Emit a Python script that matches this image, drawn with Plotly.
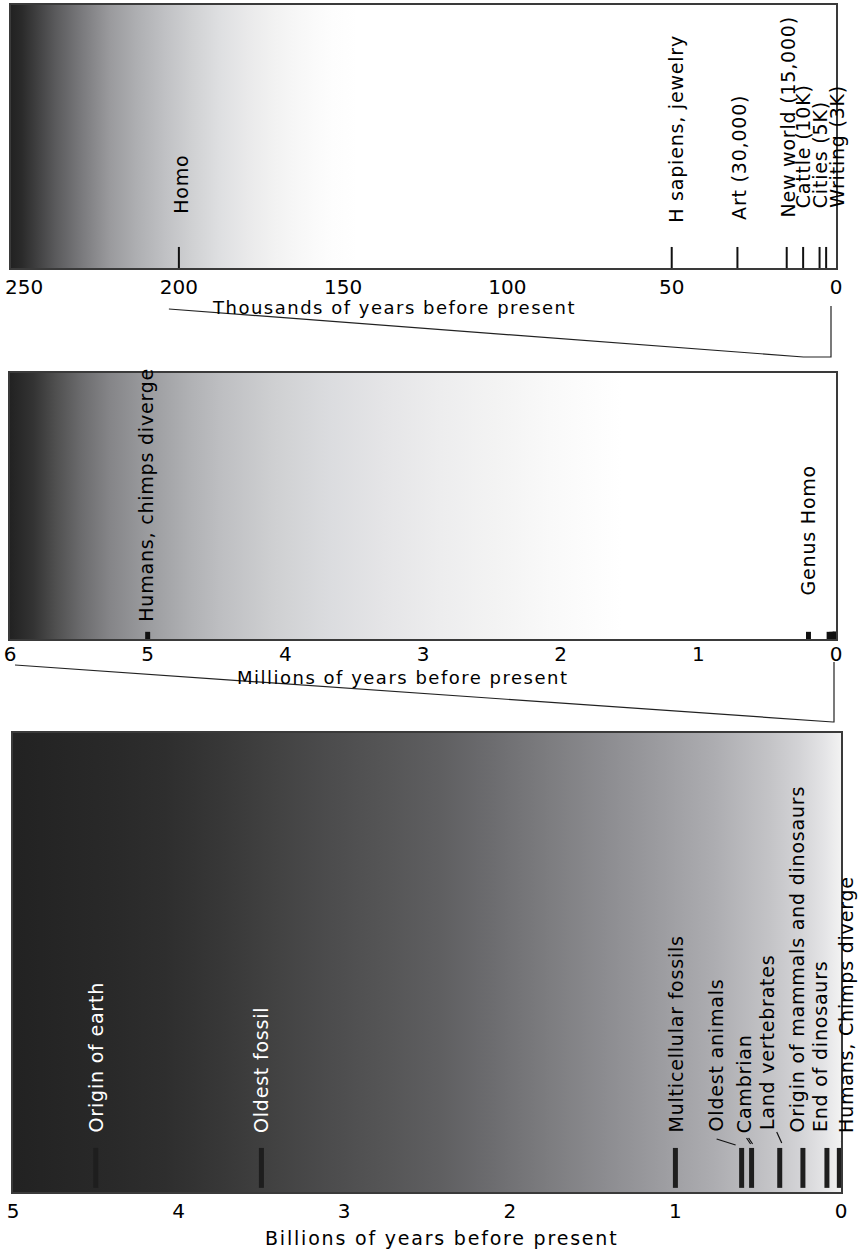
import plotly.graph_objects as go

W, H = 861, 1250
OFF = 0  # page body margin removed via post_script

# ---------------- data ----------------
# Panel 1: thousands of years before present
k_events = ["Homo", "H sapiens, jewelry", "Art (30,000)", "New world (15,000)",
            "Cattle (10K)", "Cities (5K)", "Writing (3K)"]
k_years = [200, 50, 30, 15, 10, 5, 3]
k_ticks = [250, 200, 150, 100, 50, 0]

# Panel 2: millions of years before present
m_events = ["Humans, chimps diverge", "Genus Homo"]
m_years = [5, 0.2]
m_recent = [0.05, 0.03, 0.015, 0.01, 0.005, 0.003]   # unlabeled marks near 0
m_ticks = [6, 5, 4, 3, 2, 1, 0]

# Panel 3: billions of years before present
b_events = ["Origin of earth", "Oldest fossil", "Multicellular fossils", "Oldest animals",
            "Cambrian", "Land vertebrates", "Origin of mammals and dinosaurs",
            "End of dinosaurs", "Humans, Chimps diverge"]
b_years = [4.5, 3.5, 1.0, 0.6, 0.54, 0.37, 0.23, 0.085, 0.01]
b_ticks = [5, 4, 3, 2, 1, 0]

# ---------------- layout geometry (pixels in the screenshot) ----------------
panels = {
    1: dict(x0=11, x1=836, y0=5, y1=268, rng=[251.1, 0], standoff=0),
    2: dict(x0=10, x1=836, y0=373, y1=639, rng=[6, 0], standoff=-4),
    3: dict(x0=13, x1=841, y0=733, y1=1192, rng=[5, 0], standoff=0),
}

def px(p):
    return (p - OFF) / W

def py(p):
    return 1 - (p - OFF) / H

def val2px(panel, v):
    g = panels[panel]
    r0, r1 = g["rng"]
    return g["x0"] + (v - r0) / (r1 - r0) * (g["x1"] - g["x0"])

FONT = "DejaVu Sans"

def spaced(t, s):
    return f'<span style="letter-spacing:{s}px">{t}</span>'

def tick_text(vals, pad_first=0):
    out = []
    for i, t in enumerate(vals):
        s = str(t)
        if i == 0 and pad_first:
            s = "\u00a0" * pad_first + s
        out.append(s)
    return out

fig = go.Figure()

# gradients (screen fraction, gray colour)
grad = {
    1: [[0, "#222222"], [0.013, "#2a2a2a"], [0.054, "#5a5a5c"], [0.086, "#7a7a7d"],
        [0.12, "#9a9a9d"], [0.153, "#aeafb2"], [0.187, "#c0c1c4"], [0.22, "#d0d1d3"],
        [0.253, "#dedfe1"], [0.286, "#e9e9ea"], [0.32, "#f2f2f2"], [0.353, "#f8f8f8"],
        [0.39, "#fdfdfd"], [0.42, "#ffffff"], [1, "#ffffff"]],
    2: [[0, "#222222"], [0.028, "#333333"], [0.055, "#4f4f4f"], [0.087, "#6c6c6e"],
        [0.121, "#858588"], [0.165, "#9a9b9e"], [0.218, "#b0b1b4"], [0.254, "#bdbec1"],
        [0.321, "#cfd0d2"], [0.387, "#dbdcdf"], [0.454, "#e5e5e7"], [0.521, "#ededee"],
        [0.587, "#f3f3f3"], [0.654, "#f9f9f9"], [0.74, "#ffffff"], [1, "#ffffff"]],
    3: [[0, "#222222"], [0.05, "#252525"], [0.117, "#292929"], [0.184, "#2e2e2e"],
        [0.25, "#373737"], [0.316, "#424242"], [0.383, "#4c4c4d"], [0.449, "#555556"],
        [0.516, "#5f5f61"], [0.582, "#6d6d70"], [0.649, "#7d7d80"], [0.715, "#8c8c90"],
        [0.782, "#9c9ca0"], [0.848, "#adadb1"], [0.915, "#c4c4c7"], [0.948, "#d2d2d5"],
        [0.98, "#e4e4e6"], [1, "#f2f2f2"]],
}

for p in (1, 2, 3):
    r0, r1 = panels[p]["rng"]
    sfx = "" if p == 1 else str(p)
    fig.add_trace(go.Scatter(
        x=[r0, r1, r1, r0, r0], y=[0, 0, 1, 1, 0], mode="lines", fill="toself",
        line=dict(width=0), fillgradient=dict(type="horizontal", colorscale=grad[p]),
        hoverinfo="skip", showlegend=False, xaxis="x" + sfx, yaxis="y" + sfx))

def marks(xs, y0, y1, width, color, sfx):
    X, Y = [], []
    for v in xs:
        X += [v, v, None]
        Y += [y0, y1, None]
    fig.add_trace(go.Scatter(x=X, y=Y, mode="lines", line=dict(width=width, color=color),
                             hoverinfo="skip", showlegend=False,
                             xaxis="x" + sfx, yaxis="y" + sfx))

marks(k_years, 0, 0.08, 2, "#111111", "")
marks(m_years + m_recent, 0, 0.027, 5, "#111111", "2")
marks(b_years, 0.009, 0.096, 5, "#1e1e1e", "3")

annotations = []

LABEL_SIZE = 19
LS = 0.8

# label styling: (xshift px, bottom as panel fraction)
k_style = [(2, 0.2), (4, 0.163), (2, 0.175), (1, 0.183), (0, 0.22), (0, 0.22), (10, 0.22)]
for t, v, (dx, yb) in zip(k_events, k_years, k_style):
    annotations.append(dict(text=spaced(t, LS), x=v, y=yb, xref="x", yref="y",
                            textangle=-90, xanchor="center", yanchor="bottom",
                            xshift=dx, showarrow=False,
                            font=dict(family=FONT, size=LABEL_SIZE, color="black")))

m_style = [(-2, 0.056), (-1, 0.158)]
for t, v, (dx, yb) in zip(m_events, m_years, m_style):
    annotations.append(dict(text=spaced(t, LS), x=v, y=yb, xref="x2", yref="y2",
                            textangle=-90, xanchor="center", yanchor="bottom",
                            xshift=dx, showarrow=False,
                            font=dict(family=FONT, size=LABEL_SIZE, color="black")))

b_style = [(0, 0.125, "white"), (-1, 0.125, "white"), (1, 0.125, "black"),
           (-26, 0.128, "black"), (-8, 0.124, "black"), (-12, 0.13, "black"),
           (-6, 0.126, "black"), (-7, 0.126, "black"), (6, 0.124, "black")]
for t, v, (dx, yb, c) in zip(b_events, b_years, b_style):
    annotations.append(dict(text=spaced(t, LS), x=v, y=yb, xref="x3", yref="y3",
                            textangle=-90, xanchor="center", yanchor="bottom",
                            xshift=dx, showarrow=False,
                            font=dict(family=FONT, size=LABEL_SIZE, color=c)))

# axis titles
titles = [("Thousands of years before present", 393.5, 307, 18, 1.5),
          ("Millions of years before present", 402, 677, 18, 1.5),
          ("Billions of years before present", 441.5, 1238, 19, 1.8)]
for t, cx, cy, fs, ls in titles:
    annotations.append(dict(text=spaced(t, ls), x=px(cx), y=py(cy), xref="paper", yref="paper",
                            xanchor="center", yanchor="middle", showarrow=False,
                            font=dict(family=FONT, size=fs, color="black")))

shapes = []
# leader lines in the bottom panel (pixel offsets from event marks)
leaders = [(3, -25, 53, -6, 47), (4, -5, 54, -1, 48), (4, -3, 54, 1, 48),
           (5, -3, 60, 2, 49), (8, 5, 56, 2, 50)]
for idx, x0, y0, x1, y1 in leaders:
    shapes.append(dict(type="line", xref="x3", yref="y3", xsizemode="pixel", ysizemode="pixel",
                       xanchor=b_years[idx], yanchor=0, x0=x0, x1=x1, y0=y0, y1=y1,
                       line=dict(color="#111111", width=1.2)))

# zoom connectors between panels
def connector(src_panel, src_val, dst_panel, dst_val, y_top, y_bot, dx0, dx1):
    xa = val2px(src_panel, src_val) + dx0
    xb = val2px(dst_panel, dst_val) + dx1
    xz = val2px(dst_panel, 0) + dx1
    path = (f"M {px(xa)} {py(y_top)} L {px(xb)} {py(y_bot)} "
            f"L {px(xz)} {py(y_bot)} L {px(xz)} {py(y_top - 3)}")
    shapes.append(dict(type="path", xref="paper", yref="paper", path=path,
                       line=dict(color="#222222", width=1.2)))

connector(1, 200, 2, 0.2, 309, 357, -10, -5)
connector(2, 6, 3, 0.006, 665, 722, 5, -7)

axis_common = dict(showgrid=False, zeroline=False, showline=True, mirror=True,
                   linecolor="#3a3a3a", linewidth=1.5, ticks="", fixedrange=True,
                   automargin=False)

layout = dict(width=W, height=H, margin=dict(l=0, r=0, t=0, b=0, autoexpand=False),
              paper_bgcolor="white", plot_bgcolor="white", showlegend=False,
              annotations=annotations, shapes=shapes)

tick_sets = {1: k_ticks, 2: m_ticks, 3: b_ticks}
pads = {1: 3, 2: 0, 3: 0}
for p in (1, 2, 3):
    g = panels[p]
    sfx = "" if p == 1 else str(p)
    layout["xaxis" + sfx] = dict(axis_common, domain=[px(g["x0"]), px(g["x1"])],
                                 range=g["rng"], tickvals=tick_sets[p],
                                 ticktext=tick_text(tick_sets[p], pads[p]),
                                 tickfont=dict(family=FONT, size=20, color="black"),
                                 anchor="y" + sfx, ticklabelstandoff=g["standoff"],
                                 ticklabeloverflow="allow")
    layout["yaxis" + sfx] = dict(axis_common, domain=[py(g["y1"]), py(g["y0"])],
                                 range=[0, 1], showticklabels=False, anchor="x" + sfx)

fig.update_layout(**layout)
fig.write_html("out.html", config={"displayModeBar": False},
               post_script="document.body.style.margin='0';document.body.style.padding='0';")
